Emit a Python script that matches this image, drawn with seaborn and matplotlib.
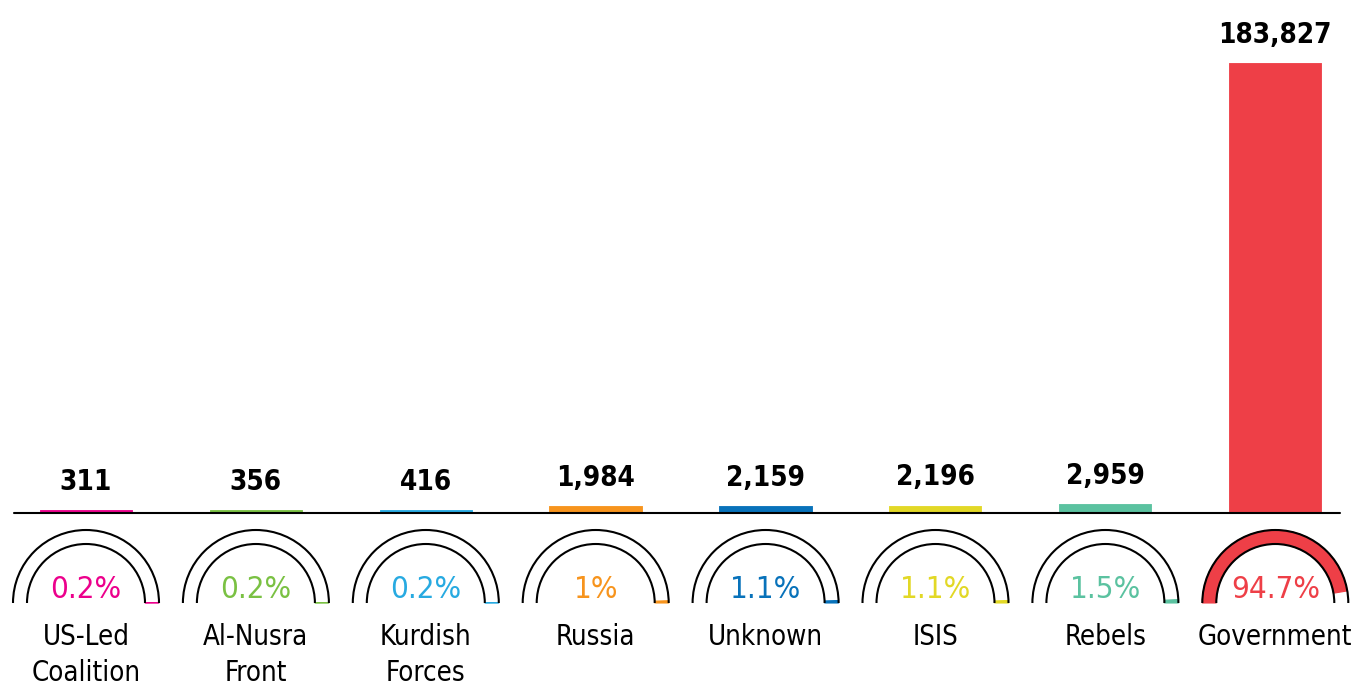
import matplotlib
matplotlib.use("Agg")
import matplotlib.pyplot as plt
from matplotlib import font_manager as fm
from matplotlib.patches import Arc, Wedge
import seaborn as sns

# data
groups = ["US-Led\nCoalition", "Al-Nusra\nFront", "Kurdish\nForces", "Russia",
          "Unknown", "ISIS", "Rebels", "Government"]
deaths = [311, 356, 416, 1984, 2159, 2196, 2959, 183827]
shares = [0.2, 0.2, 0.2, 1, 1.1, 1.1, 1.5, 94.7]
colors = ["#EC008C", "#7AC143", "#27AAE1", "#F7941D",
          "#0872BA", "#E2D826", "#5BC2A0", "#EE3F47"]

sns.set_style("white")
plt.rcParams["font.family"] = ["DejaVu Sans"]


def narrow_font(bold):
    # look for any installed narrow / condensed face, fall back to DejaVu
    want = "bold" if bold else "normal"
    best = None
    for f in fm.fontManager.ttflist:
        tag = (f.name + " " + f.fname).lower()
        narrow = ("narrow" in tag or "condensed" in tag
                  or str(f.stretch) in ("condensed", "semi-condensed",
                                        "extra-condensed"))
        if not narrow or "oblique" in tag or "italic" in tag:
            continue
        w = f.weight if isinstance(f.weight, int) else fm.weight_dict.get(f.weight, 400)
        if (w >= 600) != bold:
            continue
        rank = 0 if "liberation" in tag else 1 if "dejavu" in tag else 2
        if best is None or rank < best[0]:
            best = (rank, f.fname)
    if best:
        return fm.FontProperties(fname=best[1])
    return fm.FontProperties(family="DejaVu Sans", weight=want,
                             stretch="condensed")


reg_font = narrow_font(False)
bold_font = narrow_font(True)

W, H = 1351, 688
fig = plt.figure(figsize=(W / 100, H / 100), dpi=100)

# bar panel: bottom edge sits on the baseline
base_px = 175
ax = fig.add_axes([0, base_px / H, 1, 1 - base_px / H])
step = 169.9
sns.barplot(x=groups, y=deaths, hue=groups, palette=colors, legend=False,
            saturation=1, width=0.52, linewidth=3.5, ax=ax)
for p in ax.patches:
    p.set_edgecolor(p.get_facecolor())
ax.set_xlim(-86 / step, 7 + (W - 1275) / step)
ax.set_ylim(0, max(deaths) * 513 / 448)
ax.axis("off")

for i, v in enumerate(deaths):
    ax.annotate(f"{v:,}", (i, v), xytext=(0, 16), textcoords="offset points",
                ha="center", va="baseline", fontproperties=bold_font,
                fontsize=20, color="black")

ax.axhline(0, xmin=14 / W, xmax=1340 / W, color="black", lw=1.5,
           clip_on=False, zorder=5)

# gauge panel in pixel units
gx = fig.add_axes([0, 0, 1, base_px / H])
gx.set_xlim(0, W)
gx.set_ylim(0, base_px)
gx.axis("off")

r_out, r_in, cy = 73, 59, 85
for i, (name, pct, col) in enumerate(zip(groups, shares, colors)):
    cx = 86 + step * i
    span = 180 * pct / 100
    if pct > 50:
        t1, t2 = 180 - span, 180
    else:
        t1, t2 = 0, span
    gx.add_patch(Wedge((cx, cy), r_out, t1, t2, width=r_out - r_in,
                       facecolor=col, edgecolor=col, lw=0.8))
    for r in (r_out, r_in):
        gx.add_patch(Arc((cx, cy), 2 * r, 2 * r, theta1=0, theta2=180,
                         color="black", lw=1.5))
    gx.text(cx, 99, f"{pct:g}%", ha="center", va="center",
            fontproperties=reg_font, fontsize=22.5, color=col)
    for k, line in enumerate(name.split("\n")):
        gx.text(cx, 51 - 36 * k, line, ha="center", va="center",
                fontproperties=reg_font, fontsize=19.8, color="black")

fig.savefig("out.png", dpi=100)
